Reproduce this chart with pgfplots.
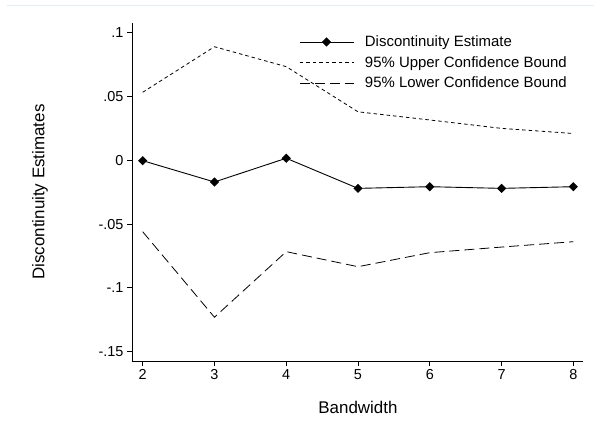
\documentclass[border=0pt]{standalone}
\usepackage{fontspec}
\setmainfont{Liberation Sans}
\usepackage{pgfplots}
\usepackage{pgfplotstable}
\pgfplotsset{compat=1.18}
\definecolor{faint}{RGB}{230,237,241}

\pgfplotstableread{
bw   est      upper    lower
2   -0.0003   0.0533  -0.0560
3   -0.0170   0.0890  -0.1230
4    0.0016   0.0734  -0.0716
5   -0.0220   0.0380  -0.0834
6   -0.0207   0.0316  -0.0724
7   -0.0220   0.0250  -0.0680
8   -0.0207   0.0210  -0.0638
}\rdtable

\begin{document}
\begin{tikzpicture}
\path[use as bounding box] (-132bp,-65bp) rectangle (462bp,361bp);
\draw[faint, line width=1bp] (-125bp,355bp) -- (462bp,355bp);
\begin{axis}[
  scale only axis, width=451bp, height=338bp,
  at={(0,0)}, anchor=south west,
  xmin=1.851, xmax=8.135, ymin=-0.1573, ymax=0.1076,
  axis x line*=bottom, axis y line*=left,
  axis line style={-, line width=0.8bp},
  tick align=outside, major tick length=5bp,
  tick style={black, line width=0.8bp},
  xtick={2,...,8},
  ytick={-0.15,-0.1,-0.05,0,0.05,0.1},
  yticklabels={-.15,-.1,-.05,0,.05,.1},
  /pgf/number format/assume math mode=true,
  tick label style={font=\fontsize{14.5}{16}\selectfont},
  xlabel={Bandwidth}, ylabel={Discontinuity Estimates},
  xlabel style={at={(axis description cs:0.501,-0.136)}, anchor=center, font=\fontsize{17}{19}\selectfont},
  ylabel style={at={(axis description cs:-0.204,0.5)}, anchor=center, font=\fontsize{17}{19}\selectfont},
  legend style={at={(axis description cs:0.37,0.9686)}, anchor=north west,
    draw=none, fill=none, inner sep=0pt, row sep=4.2bp, column sep=9bp,
    font=\fontsize{15}{17}\selectfont},
  legend cell align=left,
  legend image code/.code={\draw[mark repeat=2,mark phase=2,#1] plot coordinates {(0bp,0bp) (27bp,0bp) (54bp,0bp)};},
]
\addplot[black, line width=0.9bp, mark=square*, mark size=2.8bp, mark options={solid, rotate=45}]
  table[x=bw, y=est]{\rdtable};
\addlegendentry{Discontinuity Estimate}
\addplot[black, line width=0.8bp, dash pattern=on 3.5bp off 3bp]
  table[x=bw, y=upper]{\rdtable};
\addlegendentry{95\% Upper Confidence Bound}
\addplot[black, line width=0.8bp, dash pattern=on 10bp off 5bp]
  table[x=bw, y=lower]{\rdtable};
\addlegendentry{95\% Lower Confidence Bound}
\end{axis}
\end{tikzpicture}
\end{document}
